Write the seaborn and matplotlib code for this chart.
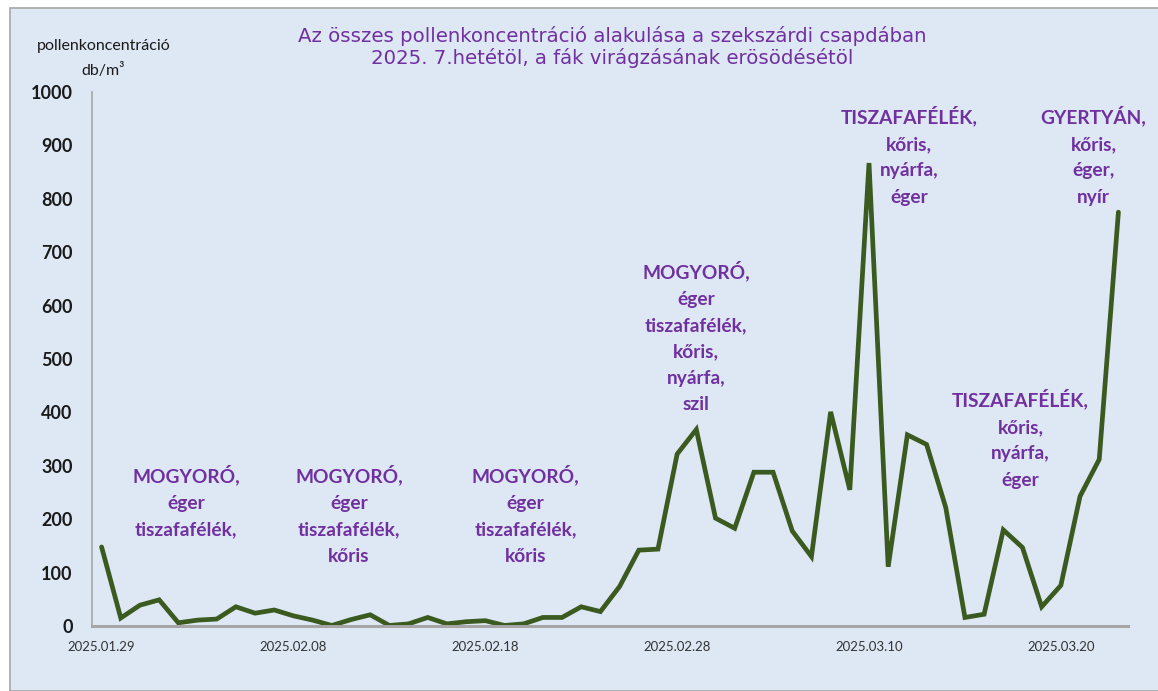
import matplotlib
matplotlib.use("Agg")
import matplotlib.pyplot as plt
from matplotlib.patches import Rectangle
import seaborn as sns
import pandas as pd

# daily total pollen concentration (db/m3), 2025.01.29 - 2025.03.23
dates = pd.date_range("2025-01-29", "2025-03-23", freq="D")
values = [148, 15, 39, 49, 6, 11, 13, 36, 24, 30,
          19, 11, 1, 12, 21, 1, 4, 16, 4, 8,
          10, 1, 4, 16, 16, 36, 27, 74, 142, 144,
          322, 368, 202, 183, 288, 288, 178, 130, 401, 255,
          867, 111, 358, 340, 222, 16, 22, 180, 147, 36,
          76, 243, 312, 775]

tick_labels = ["2025.01.29", "2025.02.08", "2025.02.18",
               "2025.02.28", "2025.03.10", "2025.03.20"]
y_ticks = [0, 100, 200, 300, 400, 500, 600, 700, 800, 900, 1000]

# (day index, value at top of text, text)
notes = [
    (4.4, 302, "MOGYORÓ,\néger\ntiszafafélék,"),
    (12.9, 302, "MOGYORÓ,\néger\ntiszafafélék,\nkőris"),
    (22.1, 302, "MOGYORÓ,\néger\ntiszafafélék,\nkőris"),
    (31.0, 684, "MOGYORÓ,\néger\ntiszafafélék,\nkőris,\nnyárfa,\nszil"),
    (42.1, 974, "TISZAFAFÉLÉK,\nkőris,\nnyárfa,\néger"),
    (47.9, 444, "TISZAFAFÉLÉK,\nkőris,\nnyárfa,\néger"),
    (51.7, 974, "GYERTYÁN,\nkőris,\néger,\nnyír"),
]

df = pd.DataFrame({"day": range(len(values)), "pollen": values})

bg = "#DEE8F4"
purple = "#7030A0"

sns.set_style("white")
fig = plt.figure(figsize=(11.58, 6.91), dpi=100)
fig.patches.append(Rectangle((10 / 1158, 0), 1.0, (691 - 8) / 691,
                             transform=fig.transFigure, facecolor=bg,
                             edgecolor="#A6A6A6", linewidth=1.2, zorder=-10))
ax = fig.add_axes([92 / 1158, 65 / 691, 1036 / 1158, 534 / 691])
ax.set_facecolor("none")
ax.set_zorder(2)

sns.lineplot(data=df, x="day", y="pollen", ax=ax, color="#3B5A1F",
             linewidth=3.4, solid_joinstyle="miter")

ax.set_xlim(-0.5, len(values) - 0.5)
ax.set_ylim(0, 1000)
ax.set_xticks(range(0, len(values), 10))
ax.set_xticklabels(tick_labels, fontsize=9.5, color="#333333", family="Lato")
ax.set_yticks(y_ticks)
ax.set_yticklabels([str(v) for v in y_ticks], fontsize=13,
                   fontweight="bold", family="Lato", color="#1a1a1a")
ax.tick_params(axis="y", length=0, pad=14)
ax.tick_params(axis="x", length=0, pad=11)
ax.set_xlabel("")
ax.set_ylabel("")
for s in ["top", "right"]:
    ax.spines[s].set_visible(False)
ax.spines["left"].set_color("#A6A6A6")
ax.spines["left"].set_linewidth(1.2)
ax.spines["bottom"].set_color("#A6A6A6")
ax.spines["bottom"].set_linewidth(2.2)

for x, y, txt in notes:
    ax.text(x, y, txt, ha="center", va="top", color=purple,
            fontsize=13.8, fontweight="bold", family="Lato",
            linespacing=1.67)

fig.text(612 / 1158, 1 - 47 / 691,
         "Az összes pollenkoncentráció alakulása a szekszárdi csapdában\n"
         "2025. 7.hetétöl, a fák virágzásának erösödésétöl",
         ha="center", va="center", color=purple, fontsize=14.2,
         family="DejaVu Sans", linespacing=1.1)
fig.text(104 / 1158, 1 - 46 / 691, "pollenkoncentráció", ha="center",
         va="center", fontsize=11.5, family="Lato", color="#1a1a1a")
fig.text(103 / 1158, 1 - 70 / 691, "db/m³", ha="center",
         va="center", fontsize=11.5, family="Lato", color="#1a1a1a")

fig.savefig("out.png", dpi=100, facecolor="white")
